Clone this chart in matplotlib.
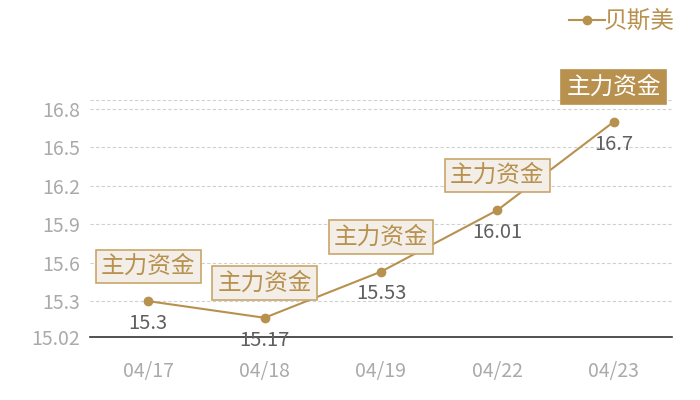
import matplotlib
matplotlib.use("Agg")
import matplotlib.pyplot as plt

plt.rcParams['font.family'] = ['Noto Sans CJK SC', 'DejaVu Sans']

# data
dates = ['04/17', '04/18', '04/19', '04/22', '04/23']
prices = [15.3, 15.17, 15.53, 16.01, 16.7]
tag = '主力资金'
series_name = '贝斯美'
yticks = [15.02, 15.3, 15.6, 15.9, 16.2, 16.5, 16.8]
ytop = 16.87

gold = '#b8914f'
box_fill = '#f3efe8'
box_edge = '#c9a66b'

fig = plt.figure(figsize=(7, 4), dpi=100)
ax = fig.add_axes([90/700, 1 - 337/400, 582/700, 237/400])

x = list(range(len(dates)))
ax.plot(x, prices, color=gold, lw=1.5, marker='o', ms=6, label=series_name,
        zorder=3)

ax.set_xlim(-0.5, len(dates) - 0.5)
ax.set_ylim(yticks[0], ytop)
ax.set_xticks(x)
ax.set_xticklabels(dates)
ax.set_yticks(yticks)
ax.set_yticklabels([str(v) for v in yticks])
ax.tick_params(axis='both', length=0, colors='#aaaaaa', labelsize=14)
ax.tick_params(axis='x', pad=17)
ax.tick_params(axis='y', pad=7)

for v in yticks[1:] + [ytop]:
    ax.axhline(v, color='#d0d0d0', lw=0.8, ls=(0, (3, 2)), zorder=1)

for s in ['top', 'right', 'left']:
    ax.spines[s].set_visible(False)
ax.spines['bottom'].set_color('#333333')
ax.spines['bottom'].set_linewidth(1.2)

for i, (xi, yi) in enumerate(zip(x, prices)):
    ax.annotate(str(yi), (xi, yi), xytext=(0, -16), textcoords='offset points',
                ha='center', va='center', fontsize=14.5, color='#5f5f5f',
                zorder=4)
    last = i == len(x) - 1
    ax.annotate(tag, (xi, yi), xytext=(0, 25), textcoords='offset points',
                ha='center', va='center', fontsize=17,
                color='white' if last else gold, zorder=5,
                bbox=dict(boxstyle='square,pad=0.22',
                          fc=gold if last else box_fill,
                          ec=gold if last else box_edge, lw=1.2))

ax.legend(loc='upper right', bbox_to_anchor=(0.97, 0.985),
          bbox_transform=fig.transFigure, frameon=False, fontsize=17,
          labelcolor=gold, handlelength=1.5, handletextpad=-0.05,
          borderaxespad=0.0, borderpad=0.2)

fig.savefig('out.png', dpi=100)
